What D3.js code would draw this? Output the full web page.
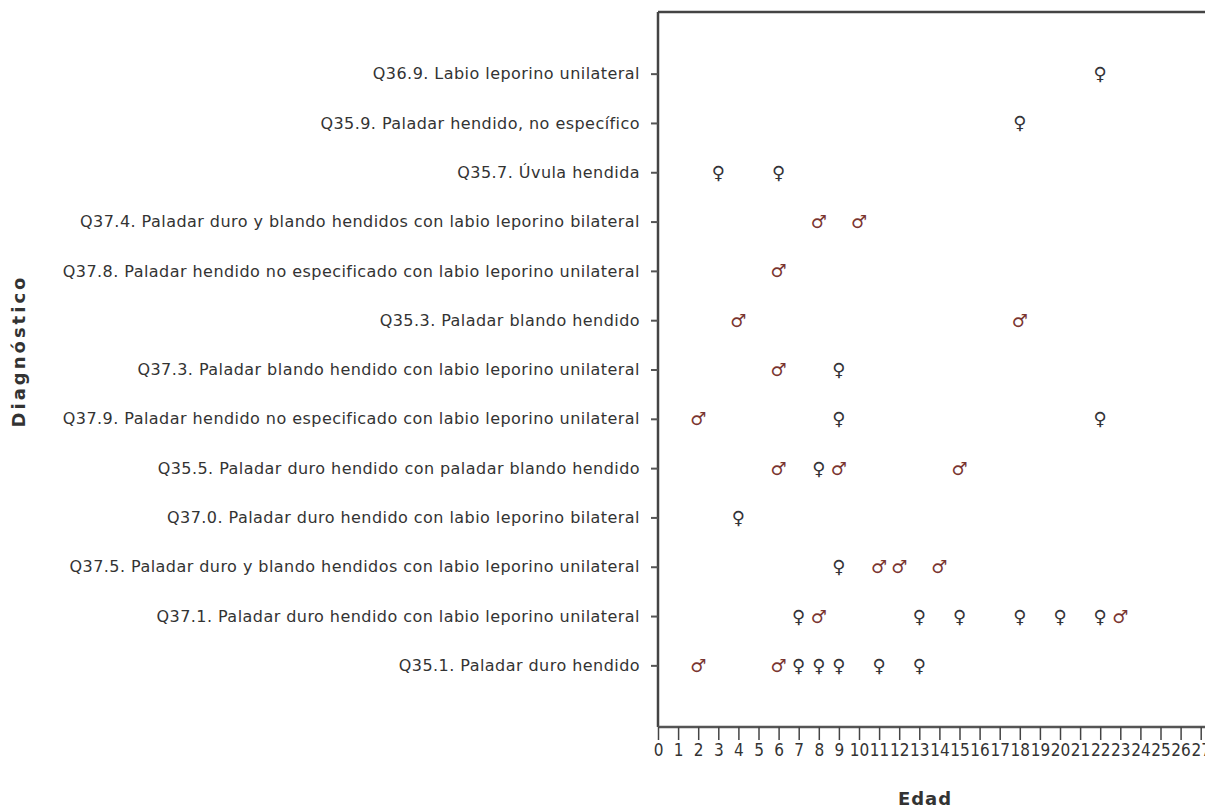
<!DOCTYPE html>
<html>
<head>
<meta charset="utf-8">
<script src="https://cdn.jsdelivr.net/npm/d3@7"></script>
<style>
  body { margin: 0; background: #fff; }
</style>
</head>
<body>
<div id="chart"></div>
<script>
// Diagnoses, top to bottom
const diagnoses = [
  "Q36.9. Labio leporino unilateral",
  "Q35.9. Paladar hendido, no específico",
  "Q35.7. Úvula hendida",
  "Q37.4. Paladar duro y blando hendidos con labio leporino bilateral",
  "Q37.8. Paladar hendido no especificado con labio leporino unilateral",
  "Q35.3. Paladar blando hendido",
  "Q37.3. Paladar blando hendido con labio leporino unilateral",
  "Q37.9. Paladar hendido no especificado con labio leporino unilateral",
  "Q35.5. Paladar duro hendido con paladar blando hendido",
  "Q37.0. Paladar duro hendido con labio leporino bilateral",
  "Q37.5. Paladar duro y blando hendidos con labio leporino unilateral",
  "Q37.1. Paladar duro hendido con labio leporino unilateral",
  "Q35.1. Paladar duro hendido"
];

// age ticks
const ageTicks = d3.range(0, 28);

// female cases: [diagnosis index, age]
const femaleCases = [
  [0, 22],
  [1, 18],
  [2, 3], [2, 6],
  [6, 9],
  [7, 9], [7, 22],
  [8, 8],
  [9, 4],
  [10, 9],
  [11, 7], [11, 13], [11, 15], [11, 18], [11, 20], [11, 22],
  [12, 7], [12, 8], [12, 9], [12, 11], [12, 13]
];

// male cases: [diagnosis index, age]
const maleCases = [
  [3, 8], [3, 10],
  [4, 6],
  [5, 4], [5, 18],
  [6, 6],
  [7, 2],
  [8, 6], [8, 9], [8, 15],
  [10, 11], [10, 12], [10, 14],
  [11, 8], [11, 23],
  [12, 2], [12, 6]
];

const W = 1205, H = 809;
const plotLeft = 658, plotTop = 12, plotBottom = 727;

const svg = d3.select("#chart").append("svg")
  .attr("width", W)
  .attr("height", H);

const x = d3.scaleLinear()
  .domain([0, 27])
  .range([plotLeft, plotLeft + 27 * 20.1]);

const y = d3.scalePoint()
  .domain(diagnoses)
  .range([plotTop, plotBottom])
  .padding(1.25);

// frame: top line
svg.append("line")
  .attr("x1", plotLeft).attr("x2", W)
  .attr("y1", plotTop).attr("y2", plotTop)
  .attr("stroke", "#444")
  .attr("stroke-width", 2.5);

// y axis
const yAxis = svg.append("g")
  .attr("transform", `translate(${plotLeft},0)`)
  .call(d3.axisLeft(y).tickSize(7).tickPadding(11));
yAxis.select(".domain")
  .attr("d", `M0,${plotTop}V${plotBottom}`)
  .attr("stroke", "#444")
  .attr("stroke-width", 2.5);
yAxis.selectAll(".tick line")
  .attr("stroke", "#555")
  .attr("stroke-width", 2);
yAxis.selectAll(".tick text")
  .attr("fill", "#333")
  .style("font-family", "DejaVu Sans, sans-serif")
  .style("font-size", "16px")
  .style("letter-spacing", "0.45px");

// x axis
const xAxis = svg.append("g")
  .attr("transform", `translate(0,${plotBottom})`)
  .call(d3.axisBottom(x).tickValues(ageTicks).tickFormat(d3.format("d")).tickSize(13).tickPadding(4));
xAxis.select(".domain")
  .attr("d", `M${plotLeft},0H${W}`)
  .attr("stroke", "#555")
  .attr("stroke-width", 2.5);
xAxis.selectAll(".tick line")
  .attr("stroke", "#444")
  .attr("stroke-width", 1.5);
xAxis.selectAll(".tick text")
  .attr("fill", "#333")
  .style("font-family", "Liberation Sans Narrow, DejaVu Sans Condensed, sans-serif")
  .style("font-size", "17px");

// markers
svg.append("g").selectAll("text.female")
  .data(femaleCases)
  .join("text")
    .attr("class", "female")
    .attr("x", d => x(d[1]))
    .attr("y", d => y(diagnoses[d[0]]))
    .attr("text-anchor", "middle")
    .attr("dominant-baseline", "central")
    .style("font-family", "DejaVu Sans, sans-serif")
    .style("font-size", "18px")
    .style("font-weight", "bold")
    .attr("fill", "#333338")
    .text("\u2640");

svg.append("g").selectAll("text.male")
  .data(maleCases)
  .join("text")
    .attr("class", "male")
    .attr("x", d => x(d[1]))
    .attr("y", d => y(diagnoses[d[0]]))
    .attr("text-anchor", "middle")
    .attr("dominant-baseline", "central")
    .style("font-family", "DejaVu Sans, sans-serif")
    .style("font-size", "18px")
    .style("font-weight", "bold")
    .attr("fill", "#7a3530")
    .text("\u2642");

// axis titles
svg.append("text")
  .attr("transform", `translate(25,351) rotate(-90)`)
  .attr("text-anchor", "middle")
  .style("font-family", "DejaVu Sans, sans-serif")
  .style("font-size", "18px")
  .style("font-weight", "bold")
  .style("letter-spacing", "3px")
  .attr("fill", "#333")
  .text("Diagnóstico");

svg.append("text")
  .attr("x", 925)
  .attr("y", 805)
  .attr("text-anchor", "middle")
  .style("font-family", "DejaVu Sans, sans-serif")
  .style("font-size", "18px")
  .style("font-weight", "bold")
  .style("letter-spacing", "1px")
  .attr("fill", "#333")
  .text("Edad");
</script>
</body>
</html>
